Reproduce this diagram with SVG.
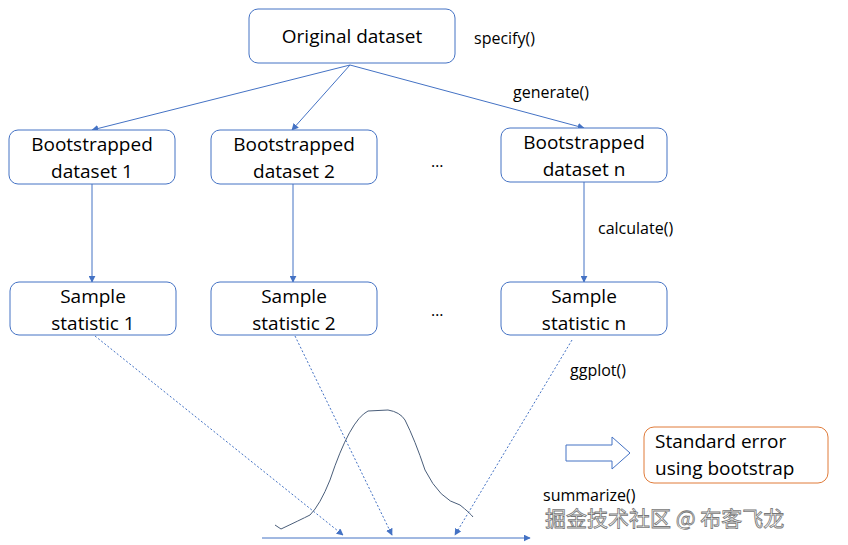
<svg xmlns="http://www.w3.org/2000/svg" width="848" height="545" viewBox="0 0 848 545">
<defs>
<marker id="a" viewBox="0 0 10 10" refX="9" refY="5" markerWidth="7" markerHeight="7" orient="auto"><path d="M0,0L10,5L0,10z" fill="#4472c4"/></marker>
</defs>
<style>
.b{fill:#fff;stroke:#4472c4;stroke-width:1}
.t{font-family:"Open Sans","Liberation Sans",sans-serif;font-size:19px;fill:#000;text-anchor:middle}
.s{font-family:"Open Sans","Liberation Sans",sans-serif;font-size:16px;fill:#000}
.c{stroke:#4472c4;stroke-width:1;fill:none}
.d{stroke:#4472c4;stroke-width:1;fill:none;stroke-dasharray:2,2}
</style>
<rect width="848" height="545" fill="#fff"/>
<g id="connectors">
<line class="c" x1="350" y1="65" x2="92" y2="130" marker-end="url(#a)"/>
<line class="c" x1="350" y1="65" x2="292" y2="130" marker-end="url(#a)"/>
<line class="c" x1="350" y1="65" x2="584" y2="128" marker-end="url(#a)"/>
<line class="c" x1="92" y1="184" x2="92" y2="282" marker-end="url(#a)"/>
<line class="c" x1="293" y1="184" x2="293" y2="282" marker-end="url(#a)"/>
<line class="c" x1="584" y1="182" x2="584" y2="282" marker-end="url(#a)"/>
<line class="d" x1="95" y1="336" x2="343" y2="535" marker-end="url(#a)"/>
<line class="d" x1="295" y1="336" x2="392" y2="535" marker-end="url(#a)"/>
<line class="d" x1="572" y1="340" x2="455" y2="535" marker-end="url(#a)"/>
<line class="c" x1="262" y1="538" x2="530" y2="538" marker-end="url(#a)"/>
</g>
<g id="curve"><path d="M275,525 L281,529 Q300,520 310,515 Q320,505 330,480 Q350,420 368,411 L388,410 Q400,412 405,420 Q415,440 425,470 Q440,500 460,505 Q470,513 473,517" fill="none" stroke="#4a5e7a" stroke-width="1"/></g>
<g id="n0"><rect class="b" x="249" y="9" width="206" height="54" rx="9"/><text class="t" x="352" y="43">Original dataset</text></g>
<g id="n1"><rect class="b" x="9" y="130" width="166" height="54" rx="9"/><text class="t" x="92" y="151">Bootstrapped</text><text class="t" x="92" y="178">dataset 1</text></g>
<g id="n2"><rect class="b" x="211" y="130" width="166" height="54" rx="9"/><text class="t" x="294" y="151">Bootstrapped</text><text class="t" x="294" y="178">dataset 2</text></g>
<g id="n3"><rect class="b" x="501" y="128" width="166" height="54" rx="9"/><text class="t" x="584" y="149">Bootstrapped</text><text class="t" x="584" y="176">dataset n</text></g>
<g id="n4"><rect class="b" x="10" y="282" width="166" height="53" rx="9"/><text class="t" x="93" y="303">Sample</text><text class="t" x="93" y="330">statistic 1</text></g>
<g id="n5"><rect class="b" x="211" y="282" width="166" height="53" rx="9"/><text class="t" x="294" y="303">Sample</text><text class="t" x="294" y="330">statistic 2</text></g>
<g id="n6"><rect class="b" x="501" y="282" width="166" height="53" rx="9"/><text class="t" x="584" y="303">Sample</text><text class="t" x="584" y="330">statistic n</text></g>
<g id="n7"><rect x="644" y="427" width="184" height="56" rx="10" fill="#fff" stroke="#e07b39"/><text class="s" x="655" y="448" style="font-size:19px">Standard error</text><text class="s" x="655" y="475" style="font-size:19px">using bootstrap</text></g>
<g id="blockarrow"><path d="M566,445 L612,445 L612,437 L630,453 L612,469 L612,461 L566,461 Z" fill="#fff" stroke="#4472c4" stroke-width="1"/></g>
<g id="labels">
<text class="s" x="474" y="44">specify()</text>
<text class="s" x="513" y="98">generate()</text>
<text class="s" x="598" y="234">calculate()</text>
<text class="s" x="570" y="376">ggplot()</text>
<text class="s" x="543" y="501">summarize()</text>
<text class="s" x="431" y="167">…</text>
<text class="s" x="431" y="316">…</text>
<text x="545" y="526" style="font-family:'Noto Sans CJK SC',sans-serif;font-size:21px;fill:#fff;stroke:#777;stroke-width:0.8">掘金技术社区 @ 布客飞龙</text>
</g>
</svg>
